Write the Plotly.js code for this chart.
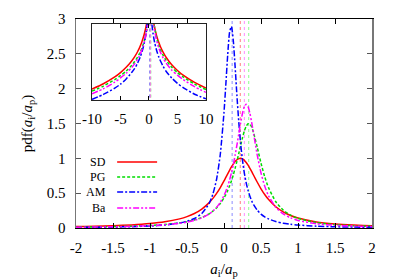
<!DOCTYPE html>
<html>
<head>
<meta charset="utf-8">
<script src="https://cdn.plot.ly/plotly-3.0.1.min.js"></script>
<style>
html,body{margin:0;padding:0;background:#fff;}
#chart{width:399px;height:279px;}
</style>
</head>
<body>
<div id="chart"></div>
<script>
// ---- data ----
const names = ["SD", "PG", "AM", "Ba"];
const xs = [-10,-8,-6,-5,-4,-3,-2.5,-2,-1.75,-1.5,-1.25,-1,-0.8,-0.6,-0.5,-0.4,-0.3,-0.2,-0.15,-0.1,-0.05,0,
  0.025,0.05,0.075,0.1,0.125,0.15,0.175,0.2,0.225,0.25,0.275,0.3,0.325,0.35,0.375,0.4,
  0.45,0.5,0.55,0.6,0.7,0.8,0.9,1,1.25,1.5,1.75,2,2.5,3,4,5,6,8,10];
const sd = [0.00097,0.0015,0.0026,0.0037,0.0057,0.0097,0.0135,0.0201,0.0254,0.033,0.0447,0.0636,0.0886,0.131,0.163,0.208,0.272,0.364,0.425,0.497,0.581,0.676,
  0.727,0.778,0.828,0.876,0.918,0.954,0.980,0.996,1.0,0.991,0.971,0.940,0.902,0.857,0.808,0.757,
  0.657,0.563,0.481,0.412,0.305,0.231,0.179,0.1425,0.087,0.058,0.0414,0.0309,0.0191,0.0129,0.0070,0.0044,0.0030,0.00167,0.00106];
const pg = [0.00082,0.00124,0.0021,0.0029,0.0042,0.0068,0.0091,0.013,0.016,0.0198,0.0264,0.0369,0.0507,0.0735,0.091,0.1155,0.151,0.204,0.2415,0.289,0.350,0.431,
  0.480,0.537,0.602,0.676,0.761,0.856,0.960,1.072,1.187,1.296,1.392,1.462,1.497,1.491,1.446,1.367,
  1.155,0.930,0.736,0.583,0.377,0.257,0.1845,0.138,0.0763,0.048,0.0329,0.0239,0.015,0.0102,0.0057,0.0037,0.0026,0.00146,0.00093];
const am = [0.00042,0.00063,0.00105,0.00145,0.0022,0.0038,0.0052,0.00797,0.0103,0.0137,0.0193,0.029,0.0432,0.0709,0.0958,0.1365,0.2087,0.354,0.487,0.700,1.059,1.661,
  2.064,2.485,2.807,2.894,2.699,2.32,1.897,1.517,1.21,0.971,0.788,0.648,0.540,0.455,0.388,0.334,
  0.254,0.199,0.160,0.131,0.0928,0.0689,0.0532,0.0422,0.0261,0.0177,0.01275,0.00964,0.00605,0.00415,0.0024,0.00155,0.0011,0.00064,0.00044];
const ba = [0.00066,0.001,0.0017,0.0024,0.0035,0.0057,0.0077,0.011,0.0134,0.0174,0.0234,0.033,0.0458,0.0675,0.0846,0.109,0.145,0.2017,0.2425,0.296,0.368,0.466,
  0.528,0.601,0.688,0.790,0.907,1.043,1.193,1.353,1.51,1.647,1.741,1.775,1.741,1.647,1.51,1.353,
  1.043,0.790,0.601,0.466,0.296,0.2017,0.145,0.109,0.0609,0.0386,0.0267,0.0195,0.012,0.0081,0.0045,0.003,0.0021,0.00118,0.00074];
const means = [0.22, 0.334, 0.11, 0.275];
const xTickVals = [-2,-1.5,-1,-0.5,0,0.5,1,1.5,2];
const xTickText = ["-2","-1.5","-1","-0.5","0","0.5","1","1.5","2"];
const yTickVals = [0,0.5,1,1.5,2,2.5,3];
const yTickText = ["0","0.5","1","1.5","2","2.5","3"];
const insetTickVals = [-10,-5,0,5,10];
const insetTickText = ["-10","-5","0","5","10"];

// ---- styles ----
const ys = [sd, pg, am, ba];
const colors = ["#ff0000", "#00dd00", "#0000ff", "#ff00ff"];
const lightColors = ["rgba(255,90,90,0.8)", "rgba(110,255,110,0.8)", "rgba(110,110,255,0.8)", "rgba(255,110,255,0.8)"];
const dashes = ["solid", "3px,2px", "6px,2px,2px,2px", "6px,2px,2px,2px,2px,2px"];
const FONT = "Liberation Serif, Times New Roman, serif";

const traces = [];
// vertical mean lines (main + inset)
means.forEach((m, i) => {
  traces.push({x:[m,m], y:[0,3], xaxis:"x", yaxis:"y", mode:"lines", hoverinfo:"skip",
    line:{color:lightColors[i], width:1, dash:"dot"}, showlegend:false});
  traces.push({x:[m,m], y:[1e-5,10], xaxis:"x2", yaxis:"y2", mode:"lines", hoverinfo:"skip",
    line:{color:lightColors[i], width:1, dash:"dot"}, showlegend:false});
});
// curves
ys.forEach((y, i) => {
  traces.push({x:xs, y:y, xaxis:"x", yaxis:"y", mode:"lines", name:names[i],
    line:{color:colors[i], width:1.5, dash:dashes[i], shape:"spline", smoothing:0.6}, showlegend:false});
  traces.push({x:xs, y:y, xaxis:"x2", yaxis:"y2", mode:"lines", name:names[i],
    line:{color:colors[i], width:1.5, dash:dashes[i], shape:"spline", smoothing:0.6}, showlegend:false});
});

// manual gnuplot-style legend (text left of sample)
const legY = [0.316, 0.244, 0.172, 0.096];
const annotations = [];
const shapes = [];
names.forEach((n, i) => {
  annotations.push({xref:"paper", yref:"paper", x:0.108, y:legY[i], xanchor:"right", yanchor:"middle",
    text:n, showarrow:false, font:{family:FONT, size:12, color:"#000"}});
  shapes.push({type:"line", xref:"paper", yref:"paper", x0:0.139, x1:0.274, y0:legY[i], y1:legY[i],
    line:{color:colors[i], width:1.5, dash:dashes[i]}});
});

const layout = {
  width:399, height:279,
  margin:{l:76, r:27, t:19, b:51, pad:0},
  paper_bgcolor:"#fff", plot_bgcolor:"#fff",
  font:{family:FONT, size:15, color:"#000"},
  showlegend:false,
  xaxis:{domain:[0,1], range:[-2,2], tickmode:"array", tickvals:xTickVals, ticktext:xTickText,
    ticks:"inside", ticklen:5, tickcolor:"#000", showline:true, linecolor:"#000", linewidth:1,
    mirror:"allticks", showgrid:false, zeroline:false, ticklabelstandoff:6,
    title:{text:"<i>a</i><sub>i</sub>/<i>a</i><sub>p</sub>", font:{family:FONT, size:15}, standoff:8}},
  yaxis:{domain:[0,1], range:[0,3], tickmode:"array", tickvals:yTickVals, ticktext:yTickText,
    ticks:"inside", ticklen:5, tickcolor:"#555", showline:true, linecolor:"#777", linewidth:1.5,
    mirror:"allticks", showgrid:false, zeroline:false, ticklabelstandoff:6,
    title:{text:"pdf(<i>a</i><sub>i</sub>/<i>a</i><sub>p</sub>)", font:{family:FONT, size:15}, standoff:10}},
  xaxis2:{domain:[0.054,0.439], anchor:"y2", range:[-10,10], tickmode:"array", tickvals:insetTickVals, ticktext:insetTickText,
    ticks:"inside", ticklen:4, tickcolor:"#000", showline:true, linecolor:"#222", linewidth:1,
    mirror:"allticks", showgrid:false, zeroline:false, ticklabelstandoff:5},
  yaxis2:{domain:[0.612,0.976], anchor:"x2", type:"log", range:[-3.4,-0.72],
    showticklabels:false, ticks:"", showline:true, linecolor:"#222", linewidth:1,
    mirror:true, showgrid:false, zeroline:false},
  annotations:annotations,
  shapes:shapes
};

Plotly.newPlot("chart", traces, layout, {displayModeBar:false, staticPlot:true});
</script>
</body>
</html>
